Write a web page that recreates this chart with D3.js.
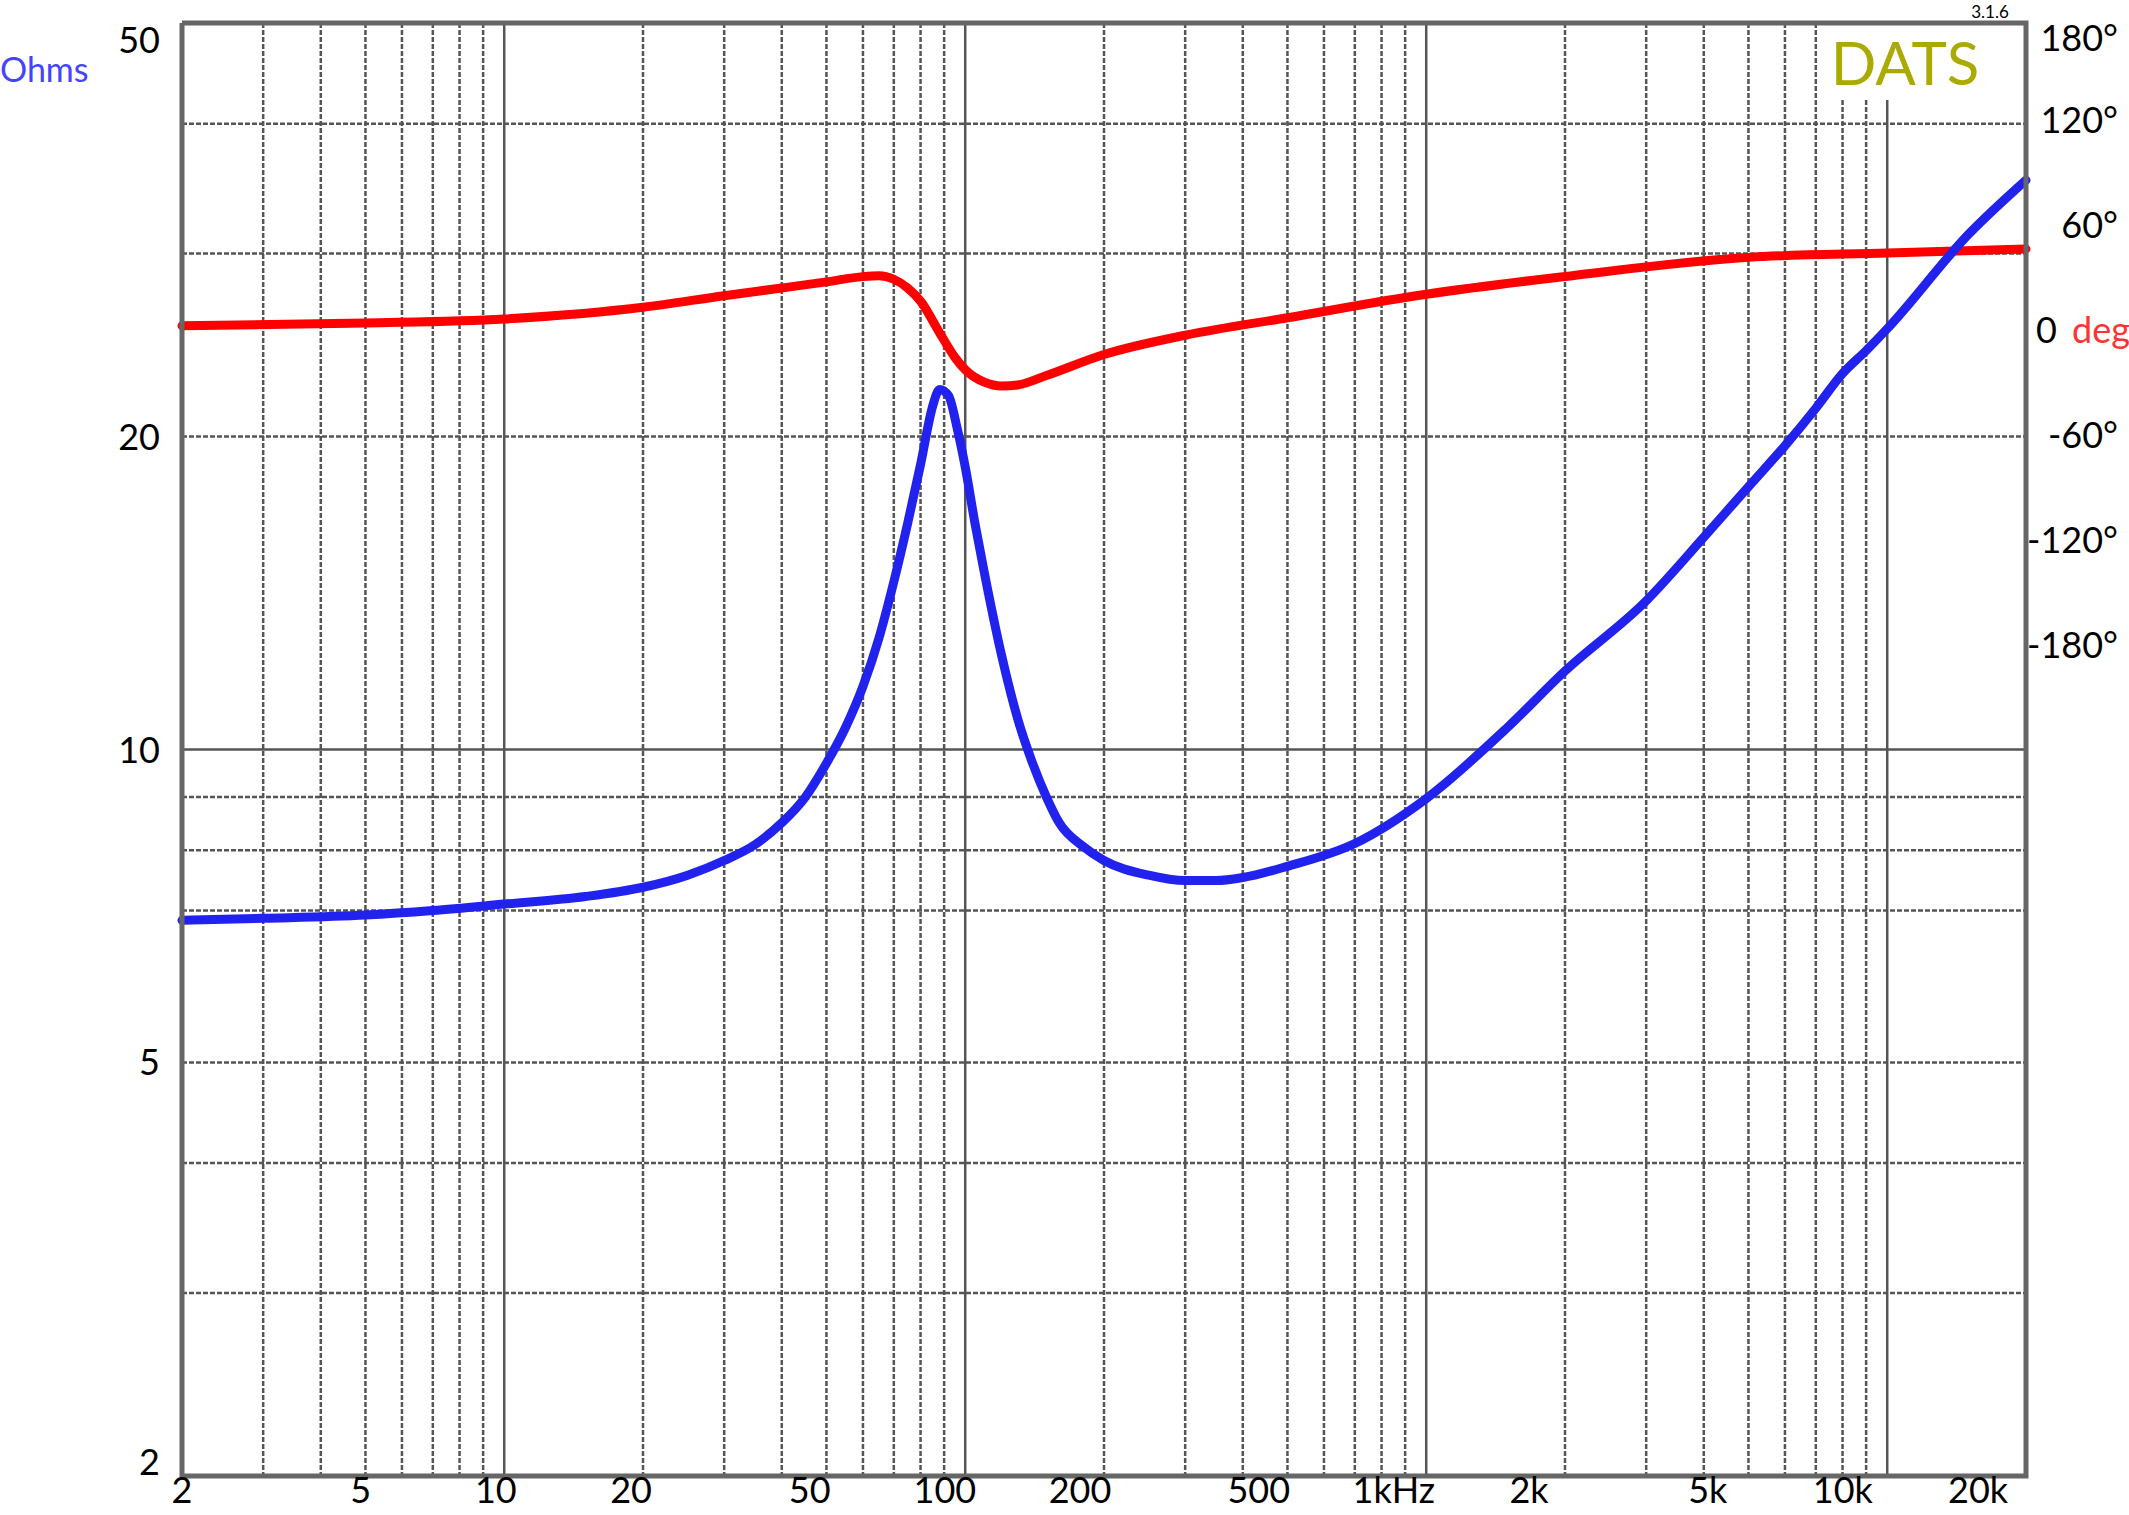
<!DOCTYPE html>
<html>
<head>
<meta charset="utf-8">
<script src="https://cdn.jsdelivr.net/npm/d3@7"></script>
<style>
  body { margin: 0; background: #fff; }
  text { font-family: Lato, "Open Sans", sans-serif; }
</style>
</head>
<body>
<svg id="chart" width="2129" height="1515"></svg>
<script>
// impedance magnitude (Ohms)
var zFreq = [2, 3, 5, 7, 10, 15, 20, 25, 30, 35, 40, 45, 50, 55, 60, 65, 70, 75, 80, 85, 88, 92, 96, 100, 105, 110, 120, 130, 140, 150, 160, 180, 200, 250, 300, 350, 400, 500, 700, 1000, 1500, 2000, 3000, 4000, 5000, 6000, 7000, 8000, 9000, 10000, 15000, 20000];
var zOhms = [6.85, 6.88, 6.93, 7.0, 7.1, 7.22, 7.37, 7.57, 7.82, 8.1, 8.5, 9.0, 9.7, 10.5, 11.5, 12.8, 14.5, 16.5, 18.8, 21.4, 22.2, 21.9, 20.4, 18.7, 16.5, 14.8, 12.3, 10.7, 9.7, 9.0, 8.5, 8.07, 7.82, 7.57, 7.48, 7.48, 7.53, 7.72, 8.12, 8.97, 10.5, 11.9, 13.9, 16.0, 17.9, 19.6, 21.3, 23.0, 24.2, 25.4, 31.3, 35.3];

// phase (degrees)
var pFreq = [2, 5, 10, 20, 30, 40, 50, 60, 65, 70, 75, 80, 88, 95, 100, 110, 120, 130, 150, 200, 300, 500, 1000, 2000, 5000, 10000, 20000];
var pDeg = [2.4, 4, 6.3, 13, 19.6, 24, 27.5, 30.5, 31, 29, 24, 16.5, -1.6, -15.7, -22.7, -29.8, -32, -31.4, -26, -14, -3, 7, 20.4, 30.6, 41.5, 44, 46.3];

var xTicks = [2, 5, 10, 20, 50, 100, 200, 500, 1000, 2000, 5000, 10000, 20000];
var xTickLabels = ["2", "5", "10", "20", "50", "100", "200", "500", "1kHz", "2k", "5k", "10k", "20k"];
var yTicks = [2, 5, 10, 20, 50];
var phaseTicks = [180, 120, 60, 0, -60, -120, -180];

var L = 182, R = 2026, T = 23, B = 1476;
var svg = d3.select("#chart");

var x = d3.scaleLog().domain([2, 20000]).range([L, R]);
var xLab = d3.scaleLog().domain([2, 20000]).range([L, L + (R - L) * 0.974]);
var y = d3.scaleLog().domain([2, 50]).range([B, T]);
var yp = d3.scaleLinear().domain([0, 60]).range([330, 225]);

var grid = svg.append("g").attr("stroke", "#555").attr("stroke-width", 2.5);

// vertical grid
var vlines = [];
for (var d = 1; d <= 10000; d *= 10) {
  for (var m = 1; m <= 9; m++) {
    var f = d * m;
    if (f > 2 && f < 20000) vlines.push(f);
  }
}
grid.selectAll("line.v").data(vlines).enter().append("line")
  .attr("x1", x).attr("x2", x)
  .attr("y1", function(f) { return (f >= 8000 && f <= 10000) ? 100 : T; })
  .attr("y2", B)
  .attr("stroke-dasharray", function(f) { return [10, 100, 1000, 10000].indexOf(f) >= 0 ? null : "5,2"; });

// horizontal grid
var hlines = [3, 4, 5, 7, 8, 9, 10, 20, 30, 40];
grid.selectAll("line.h").data(hlines).enter().append("line")
  .attr("x1", L).attr("x2", R)
  .attr("y1", y).attr("y2", y)
  .attr("stroke-dasharray", function(v) { return v === 10 ? null : "5,2"; });

// DATS badge area
svg.append("rect").attr("x", 1828).attr("y", T + 2).attr("width", 196).attr("height", 75).attr("fill", "#fff");
svg.append("text").attr("x", 1905).attr("y", 85).attr("text-anchor", "middle")
  .attr("font-size", 60).attr("fill", "#aaaa00").text("DATS");
svg.append("text").attr("x", 1990).attr("y", 18).attr("text-anchor", "middle")
  .attr("font-size", 17).attr("fill", "#000").text("3.1.6");

// curves
var lineZ = d3.line().x(function(d) { return x(d[0]); }).y(function(d) { return y(d[1]); }).curve(d3.curveMonotoneX);
var lineP = d3.line().x(function(d) { return x(d[0]); }).y(function(d) { return yp(d[1]); }).curve(d3.curveMonotoneX);

svg.append("path").datum(d3.zip(pFreq, pDeg)).attr("d", lineP)
  .attr("fill", "none").attr("stroke", "#ff0000").attr("stroke-width", 9).attr("stroke-linecap", "round");
svg.append("path").datum(d3.zip(zFreq, zOhms)).attr("d", lineZ)
  .attr("fill", "none").attr("stroke", "#2222ee").attr("stroke-width", 9).attr("stroke-linecap", "round");

// frame
svg.append("path").attr("d", "M" + L + "," + T + "V" + B + "H" + R + "V" + T + "H" + L)
  .attr("fill", "none").attr("stroke", "#666").attr("stroke-width", 5);

// x labels
svg.selectAll("text.xl").data(xTicks).enter().append("text")
  .attr("x", function(f) { return xLab(f); }).attr("y", 1503)
  .attr("text-anchor", "middle").attr("font-size", 36)
  .text(function(f, i) { return xTickLabels[i]; });

// y labels
svg.selectAll("text.yl").data(yTicks).enter().append("text")
  .attr("x", 160).attr("y", function(v) { return Math.min(Math.max(y(v), 40), B - 14) + 13; })
  .attr("text-anchor", "end").attr("font-size", 36)
  .text(function(v) { return v; });
svg.append("text").attr("x", 0).attr("y", 82).attr("font-size", 34)
  .attr("fill", "#4444ff").text("Ohms");

// phase labels
svg.selectAll("text.pl").data(phaseTicks).enter().append("text")
  .attr("x", 2118).attr("y", function(v) { return Math.max(yp(v), 38) + 13; })
  .attr("text-anchor", "end").attr("font-size", 36)
  .text(function(v) { return v === 0 ? "" : v + "\u00b0"; });
var zl = svg.append("text").attr("x", 2036).attr("y", yp(0) + 13).attr("font-size", 36);
zl.append("tspan").text("0 ");
zl.append("tspan").attr("fill", "#ff3333").attr("dx", 6).text("deg");
</script>
</body>
</html>
